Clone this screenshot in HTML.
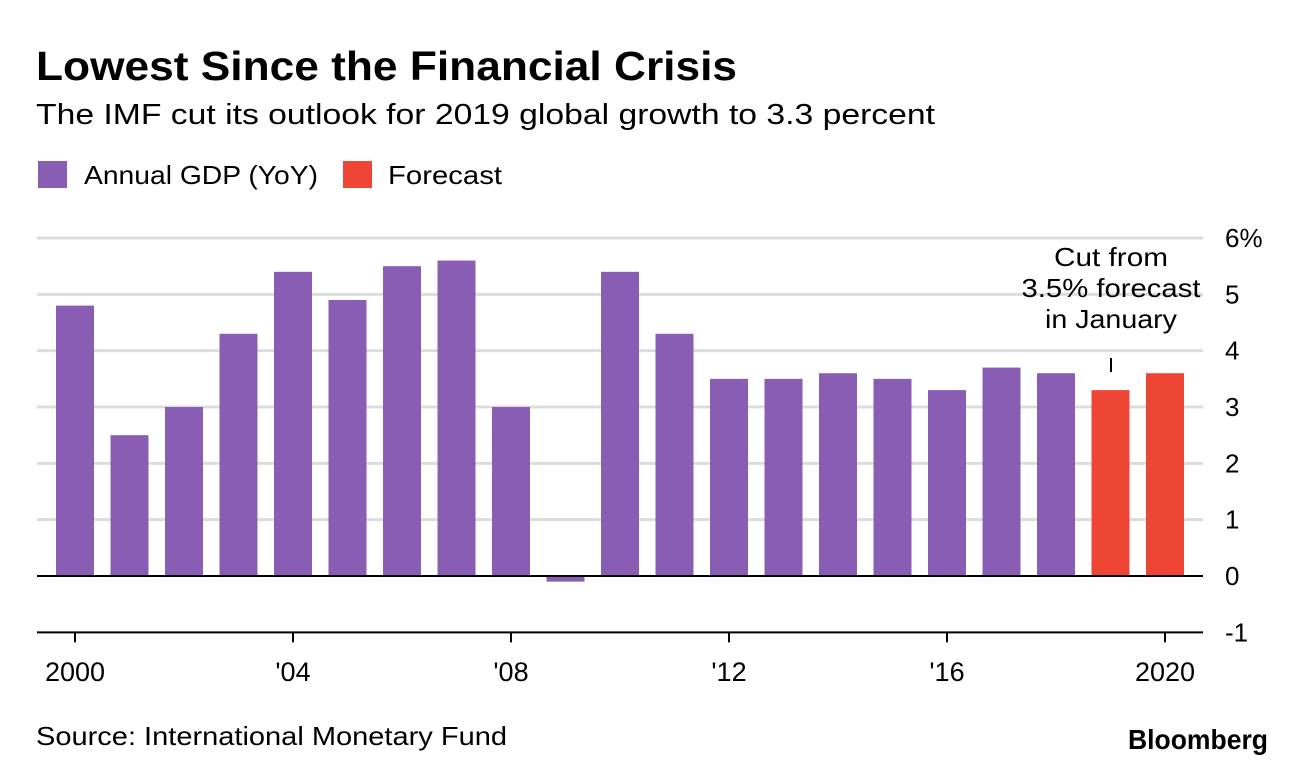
<!DOCTYPE html>
<html><head><meta charset="utf-8"><style>
body{margin:0;background:#fff;width:1296px;height:768px;overflow:hidden;font-family:"Liberation Sans",sans-serif;}
</style></head><body>
<svg width="1296" height="768" xmlns="http://www.w3.org/2000/svg" font-family="Liberation Sans, sans-serif">
<text x="36" y="80" font-size="41" font-weight="bold" fill="#000" textLength="701" lengthAdjust="spacingAndGlyphs">Lowest Since the Financial Crisis</text>
<text x="36" y="124" font-size="29" fill="#000" textLength="899" lengthAdjust="spacingAndGlyphs">The IMF cut its outlook for 2019 global growth to 3.3 percent</text>
<rect x="38" y="161" width="29" height="27" fill="#8a5db5"/>
<text x="84" y="184" font-size="26" textLength="234" lengthAdjust="spacingAndGlyphs">Annual GDP (YoY)</text>
<rect x="343" y="161" width="29" height="27" fill="#ee4535"/>
<text x="388" y="184" font-size="26" textLength="114" lengthAdjust="spacingAndGlyphs">Forecast</text>
<g id="grid"></g><g id="bars"></g><g id="axes"></g>
<g font-size="26" text-anchor="middle">
<text x="1111" y="266" textLength="114" lengthAdjust="spacingAndGlyphs">Cut from</text>
<text x="1111" y="297" textLength="179" lengthAdjust="spacingAndGlyphs">3.5% forecast</text>
<text x="1111" y="328" textLength="132" lengthAdjust="spacingAndGlyphs">in January</text>
</g>
<line x1="1111" y1="358" x2="1111" y2="372" stroke="#000" stroke-width="2"/>
<text x="36" y="745" font-size="26" textLength="471" lengthAdjust="spacingAndGlyphs">Source: International Monetary Fund</text>
<text x="1128" y="749" font-size="28" font-weight="bold" textLength="140" lengthAdjust="spacingAndGlyphs">Bloomberg</text>
</svg>
<script>
const years=[2000,2001,2002,2003,2004,2005,2006,2007,2008,2009,2010,2011,2012,2013,2014,2015,2016,2017,2018,2019,2020];
const values=[4.8,2.5,3.0,4.3,5.4,4.9,5.5,5.6,3.0,-0.1,5.4,4.3,3.5,3.5,3.6,3.5,3.3,3.7,3.6,3.3,3.6];
const forecast=[0,0,0,0,0,0,0,0,0,0,0,0,0,0,0,0,0,0,0,1,1];
const yTicks=[-1,0,1,2,3,4,5,6];
const yTickLabels=["-1","0","1","2","3","4","5","6%"];
const xTickYears=[2000,2004,2008,2012,2016,2020];
const xTickLabels=["2000","'04","'08","'12","'16","2020"];
const NS="http://www.w3.org/2000/svg";
const y=v=>576-v*56.33;
const x=yr=>75+(yr-2000)*54.5;
function mk(t,a,p){const e=document.createElementNS(NS,t);for(const k in a)e.setAttribute(k,a[k]);document.getElementById(p).appendChild(e);return e;}
yTicks.forEach((t,i)=>{
 if(t!==0&&t!==-1){const l=mk('line',{x1:37,x2:1203,y1:y(t),y2:y(t),stroke:'#dcdcdc','stroke-width':3},'grid');
 
 }
 const tx=mk('text',{x:1225,y:y(t)+9,'font-size':26},'axes');tx.textContent=yTickLabels[i];
 
 
});
years.forEach((yr,i)=>{
 const v=values[i];const top=Math.min(y(v),y(0));const h=Math.abs(y(v)-y(0));
 const r=mk('rect',{x:x(yr)-19,y:top,width:38,height:h,fill:forecast[i]?'#ee4535':'#8a5db5'},'bars');
 
 
});
let z=mk('line',{x1:37,x2:1203,y1:y(0),y2:y(0),stroke:'#000','stroke-width':2},'axes');


let b=mk('line',{x1:37,x2:1203,y1:y(-1),y2:y(-1),stroke:'#000','stroke-width':2},'axes');


xTickYears.forEach((yr,i)=>{
 const tk=mk('line',{x1:x(yr),x2:x(yr),y1:y(-1),y2:y(-1)+10,stroke:'#000','stroke-width':2},'axes');
 
 
 const tx=mk('text',{x:x(yr),y:681,'font-size':27,'text-anchor':'middle'},'axes');tx.textContent=xTickLabels[i];
 
 
});
</script>
</body></html>
